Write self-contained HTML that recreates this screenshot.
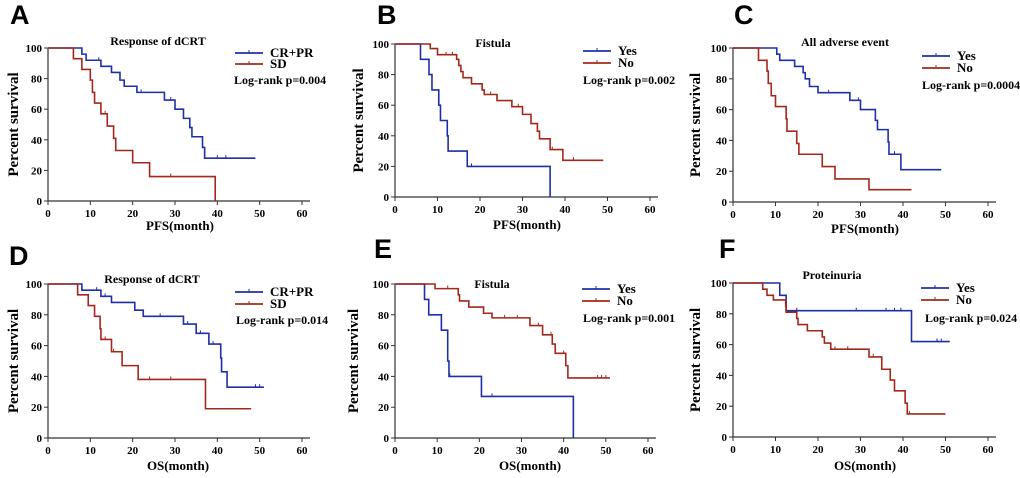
<!DOCTYPE html>
<html><head><meta charset="utf-8"><style>
body{margin:0;background:#fff}
svg{display:block}
text{font-family:"Liberation Serif",serif;font-weight:bold}
</style></head><body>
<svg id="fig" width="1020" height="478" xmlns="http://www.w3.org/2000/svg"></svg>
<script>
// ---- Data (step events: [time, survival]) ----
const ticksX = [0,10,20,30,40,50,60];
const ticksY = [0,20,40,60,80,100];
const aBlueSteps = [[8,96],[9,92],[12.5,88],[15,84],[17,79],[18,75],[21,71],[27.5,66],[30,60],[32,54],[33.5,48],[34,42],[36.5,35],[37,28]];
const aBlueCens = [12,22,29,40,42]; const aBlueEnd = 49;
const aRedSteps = [[6,93],[8,86],[10,79],[10.5,71],[11,64],[12.5,57],[14,49],[15.5,41],[16,33],[20,25],[24,16],[39.5,0]];
const aRedCens = [13.5,29]; const aRedEnd = 39.5;
const bBlueSteps = [[6,90],[8,80],[8.7,70],[10.3,60],[10.7,50],[12.3,40],[12.5,30],[17,20],[36.5,0]];
const bBlueCens = [18]; const bBlueEnd = 36.5;
const bRedSteps = [[8.3,97],[10,93],[14.5,90],[15,86],[15.5,82],[16,78],[18,74],[20.5,70],[21,67],[24,63],[27.5,59],[30,54],[32,48],[33.5,43],[34,38],[36.5,31],[39.5,24]];
const bRedCens = [12,13.5,22.5,29,37,42]; const bRedEnd = 49;
const cBlueSteps = [[10.3,96],[11,92],[14.5,88],[16.5,84],[17,80],[18,75],[20,71],[27.5,66],[30,60],[33.5,53],[34,47],[36.5,39],[36.7,31],[39.5,21]];
const cBlueCens = [22.5,29.5,38]; const cBlueEnd = 49;
const cRedSteps = [[6,92],[8,85],[8.3,77],[9,69],[10,62],[12.5,54],[12.7,46],[15,38],[15.5,31],[21,23],[24,15],[32,8]];
const cRedCens = []; const cRedEnd = 42;
const dBlueSteps = [[8,96],[12.5,92],[15,88],[20.5,83],[22.5,79],[32,74],[35,68],[38,61],[40.8,52],[41,43],[42.3,33]];
const dBlueCens = [11.5,13.5,26.5,33,36,39,49,50]; const dBlueEnd = 51;
const dRedSteps = [[7,93],[9.5,86],[11,79],[12.3,71],[12.5,64],[15,56],[17.5,47],[21.3,38],[37.2,19]];
const dRedCens = [13.5,15.5,24,29]; const dRedEnd = 48;
const eBlueSteps = [[7,90],[8,80],[11,70],[12.5,50],[12.8,40],[20.5,27],[42.3,0]];
const eBlueCens = [13,23]; const eBlueEnd = 42.3;
const eRedSteps = [[9.5,97],[15,93],[15.3,89],[17.5,85],[21,81],[23,78],[32,73],[35,67],[37.3,61],[38,55],[40.5,47],[41,39]];
const eRedCens = [12.5,26,29,34,37,40,48,49,50]; const eRedEnd = 51;
const fBlueSteps = [[11,92],[12.5,82],[42,62]];
const fBlueCens = [15,29,36,38,39.5,48,49]; const fBlueEnd = 51;
const fRedSteps = [[7,96],[8,92],[9.5,89],[12.4,85],[12.5,81],[15,77],[15.3,73],[17.5,69],[21,65],[21.5,61],[23,57],[32,52],[35,44],[37,37],[38,30],[40.5,22],[41,15]];
const fRedCens = [24,27,33,41.5]; const fRedEnd = 50;

const panels = [
 {id:'a',letter:'A',lX:10,lY:24,x0:48,x1:302,y0:201,y1:48,title:'Response of  dCRT',tx:158,ty:45,names:['CR+PR','SD'],lx:235,ly:[57,68],p:'Log-rank p=0.004',px:234,py:84,xl:'PFS(month)',xlx:180,xly:230,ylx:8,blue:[aBlueSteps,aBlueCens,aBlueEnd],red:[aRedSteps,aRedCens,aRedEnd]},
 {id:'b',letter:'B',lX:377,lY:24,x0:395,x1:650,y0:197,y1:44,title:'Fistula',tx:493,ty:47,names:['Yes','No'],lx:583,ly:[55,67],p:'Log-rank p=0.002',px:583,py:84,xl:'PFS(month)',xlx:527,xly:229,ylx:353,blue:[bBlueSteps,bBlueCens,bBlueEnd],red:[bRedSteps,bRedCens,bRedEnd]},
 {id:'c',letter:'C',lX:734,lY:24,x0:733,x1:988,y0:202,y1:48,title:'All adverse event',tx:845,ty:46,names:['Yes','No'],lx:922,ly:[60,72],p:'Log-rank p=0.0004',px:922,py:89,xl:'PFS(month)',xlx:865,xly:233,ylx:690,blue:[cBlueSteps,cBlueCens,cBlueEnd],red:[cRedSteps,cRedCens,cRedEnd]},
 {id:'d',letter:'D',lX:9,lY:265,x0:48,x1:302,y0:438,y1:284,title:'Response of  dCRT',tx:152,ty:283,names:['CR+PR','SD'],lx:235,ly:[296,308],p:'Log-rank p=0.014',px:236,py:324,xl:'OS(month)',xlx:178,xly:470,ylx:8,blue:[dBlueSteps,dBlueCens,dBlueEnd],red:[dRedSteps,dRedCens,dRedEnd]},
 {id:'e',letter:'E',lX:374,lY:258,x0:395,x1:648,y0:438,y1:284,title:'Fistula',tx:492,ty:288,names:['Yes','No'],lx:582,ly:[293,305],p:'Log-rank p=0.001',px:583,py:322,xl:'OS(month)',xlx:530,xly:470,ylx:348,blue:[eBlueSteps,eBlueCens,eBlueEnd],red:[eRedSteps,eRedCens,eRedEnd]},
 {id:'f',letter:'F',lX:719,lY:258,x0:733,x1:988,y0:437,y1:283,title:'Proteinuria',tx:832,ty:279,names:['Yes','No'],lx:921,ly:[292,304],p:'Log-rank p=0.024',px:925,py:322,xl:'OS(month)',xlx:865,xly:470,ylx:690,blue:[fBlueSteps,fBlueCens,fBlueEnd],red:[fRedSteps,fRedCens,fRedEnd]}
];
const NS='http://www.w3.org/2000/svg';
const svg=document.getElementById('fig');
function mk(tag,attrs,parent,txt){const e=document.createElementNS(NS,tag);for(const k in attrs)e.setAttribute(k,attrs[k]);if(txt!==undefined)e.textContent=txt;parent.appendChild(e);return e;}
const BLUE='#1f2fa8', RED='#a3281c';
panels.forEach(P=>{
  const g=mk('g',{},svg);
  
  
  const sx=t=>P.x0+(P.x1-P.x0)*t/60;
  const sy=v=>P.y0-(P.y0-P.y1)*v/100;
  const L=mk('text',{x:P.lX,y:P.lY,'font-size':27,style:'font-family:"Liberation Sans",sans-serif'},g,P.letter);
  
  
  const ax=mk('path',{d:`M${P.x0},${P.y1} V${P.y0} H${P.x1+8}`,stroke:'#333',fill:'none','stroke-width':1.2},g);
  
  
  ticksX.forEach(t=>{mk('line',{x1:sx(t),x2:sx(t),y1:P.y0,y2:P.y0+4,stroke:'#333'},g);
    const tl=mk('text',{x:sx(t),y:P.y0+16,'font-size':11,'text-anchor':'middle'},g,t);
    
    });
  ticksY.forEach(v=>{mk('line',{x1:P.x0-4,x2:P.x0,y1:sy(v),y2:sy(v),stroke:'#333'},g);
    const tl=mk('text',{x:P.x0-6,y:sy(v)+4,'font-size':11,'text-anchor':'end'},g,v);
    
    });
  const yl=mk('text',{x:0,y:0,'font-size':15,'text-anchor':'middle',transform:`translate(${P.ylx+10},${(P.y0+P.y1)/2}) rotate(-90)`},g,'Percent  survival');
  
  
  const xl=mk('text',{x:P.xlx,y:P.xly,'font-size':13,'text-anchor':'middle'},g,P.xl);
  
  
  const ti=mk('text',{x:P.tx,y:P.ty,'font-size':12,'text-anchor':'middle'},g,P.title);
  
  
  [[P.blue,BLUE,0],[P.red,RED,1]].forEach(([S,col,i])=>{
    const [steps,cens,end]=S;
    let d=`M${sx(0)},${sy(100)}`;
    steps.forEach(([t,v])=>{d+=` H${sx(t)} V${sy(v)}`;});
    d+=` H${sx(end)}`;
    const p=mk('path',{d,stroke:col,fill:'none','stroke-width':1.6},g);
    
    
    cens.forEach(t=>{let v=100;steps.forEach(([st,sv])=>{if(st<=t)v=sv;});
      const c=mk('line',{x1:sx(t),x2:sx(t),y1:sy(v)-3,y2:sy(v),stroke:col,'stroke-width':1},g);
      
      });
    const ly=P.ly[i];
    const le=mk('g',{},g);
    
    
    mk('line',{x1:P.lx,x2:P.lx+28,y1:ly-4,y2:ly-4,stroke:col,'stroke-width':1.8},le);
    mk('line',{x1:P.lx+14,x2:P.lx+14,y1:ly-7,y2:ly-4,stroke:col},le);
    mk('text',{x:P.lx+35,y:ly,'font-size':13},le,P.names[i]);
  });
  const pv=mk('text',{x:P.px,y:P.py,'font-size':12},g,P.p);
  
  
});
</script>
</body></html>
